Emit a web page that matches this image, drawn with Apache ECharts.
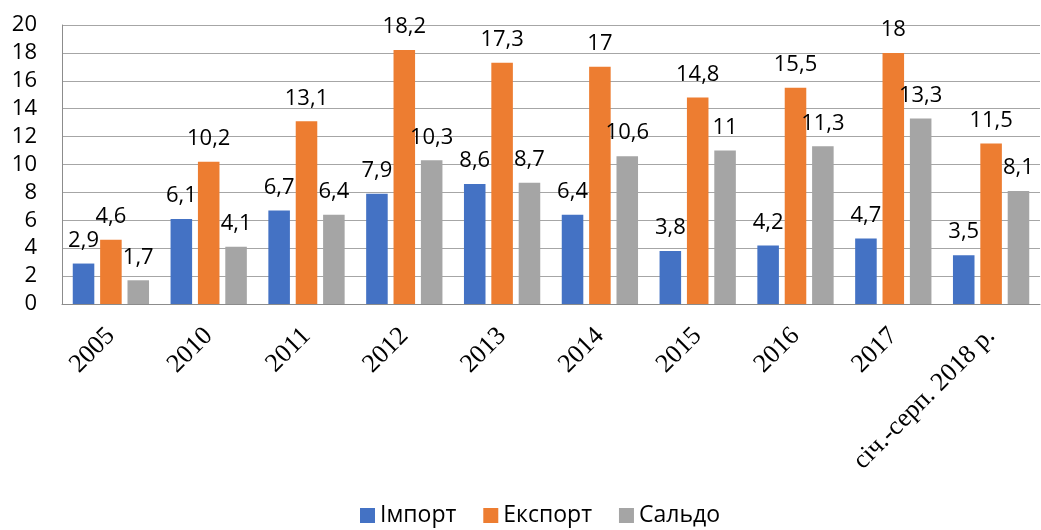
<!DOCTYPE html>
<html>
<head>
<meta charset="utf-8">
<script src="https://cdn.jsdelivr.net/npm/echarts@6/dist/echarts.min.js"></script>
<style>
  html, body { margin: 0; padding: 0; background: #fff; }
  #chart { width: 1041px; height: 530px; }
</style>
</head>
<body>
<div id="chart"></div>
<script>
// categories and values
const years = ['2005', '2010', '2011', '2012', '2013', '2014', '2015', '2016', '2017', 'січ.-серп. 2018 р.'];
const importVals = [2.9, 6.1, 6.7, 7.9, 8.6, 6.4, 3.8, 4.2, 4.7, 3.5];
const exportVals = [4.6, 10.2, 13.1, 18.2, 17.3, 17, 14.8, 15.5, 18, 11.5];
const saldoVals = [1.7, 4.1, 6.4, 10.3, 8.7, 10.6, 11, 11.3, 13.3, 8.1];

const chart = echarts.init(document.getElementById('chart'));

const fmt = p => String(p.value).replace('.', ',');
const labelStyle = {
  show: true,
  position: 'top',
  distance: 12,
  formatter: fmt,
  fontFamily: 'Open Sans',
  fontSize: 22,
  color: '#000'
};

function bar(name, data, color) {
  return {
    name: name,
    type: 'bar',
    data: data,
    barGap: '27%',
    barCategoryGap: '22%',
    itemStyle: { color: color },
    label: labelStyle
  };
}

let option = {
  animation: false,
  grid: { left: 62, right: 1, top: 25, bottom: 226 },
  legend: {
    bottom: -2,
    left: 355,
    itemWidth: 15,
    itemHeight: 15,
    itemGap: 27,
    icon: 'rect',
    textStyle: { fontFamily: 'Open Sans', fontSize: 23, color: '#000' }
  },
  xAxis: {
    type: 'category',
    data: years,
    axisLine: { lineStyle: { color: '#8c8c8c', width: 1 } },
    axisTick: { show: false },
    axisLabel: {
      rotate: 45,
      interval: 0,
      margin: 28,
      fontFamily: 'Liberation Serif',
      fontSize: 26,
      color: '#000'
    }
  },
  yAxis: {
    type: 'value',
    min: 0,
    max: 20,
    interval: 2,
    axisLine: { show: true, lineStyle: { color: '#8c8c8c' } },
    axisTick: { show: false },
    splitLine: { lineStyle: { color: '#a6a6a6', width: 1 } },
    axisLabel: {
      margin: 25,
      fontFamily: 'Open Sans',
      fontSize: 22,
      color: '#000'
    }
  },
  series: [
    bar('Імпорт', importVals, '#4472C4'),
    bar('Експорт', exportVals, '#ED7D31'),
    bar('Сальдо', saldoVals, '#A5A5A5')
  ]
};

chart.setOption(option);
</script>
</body>
</html>
